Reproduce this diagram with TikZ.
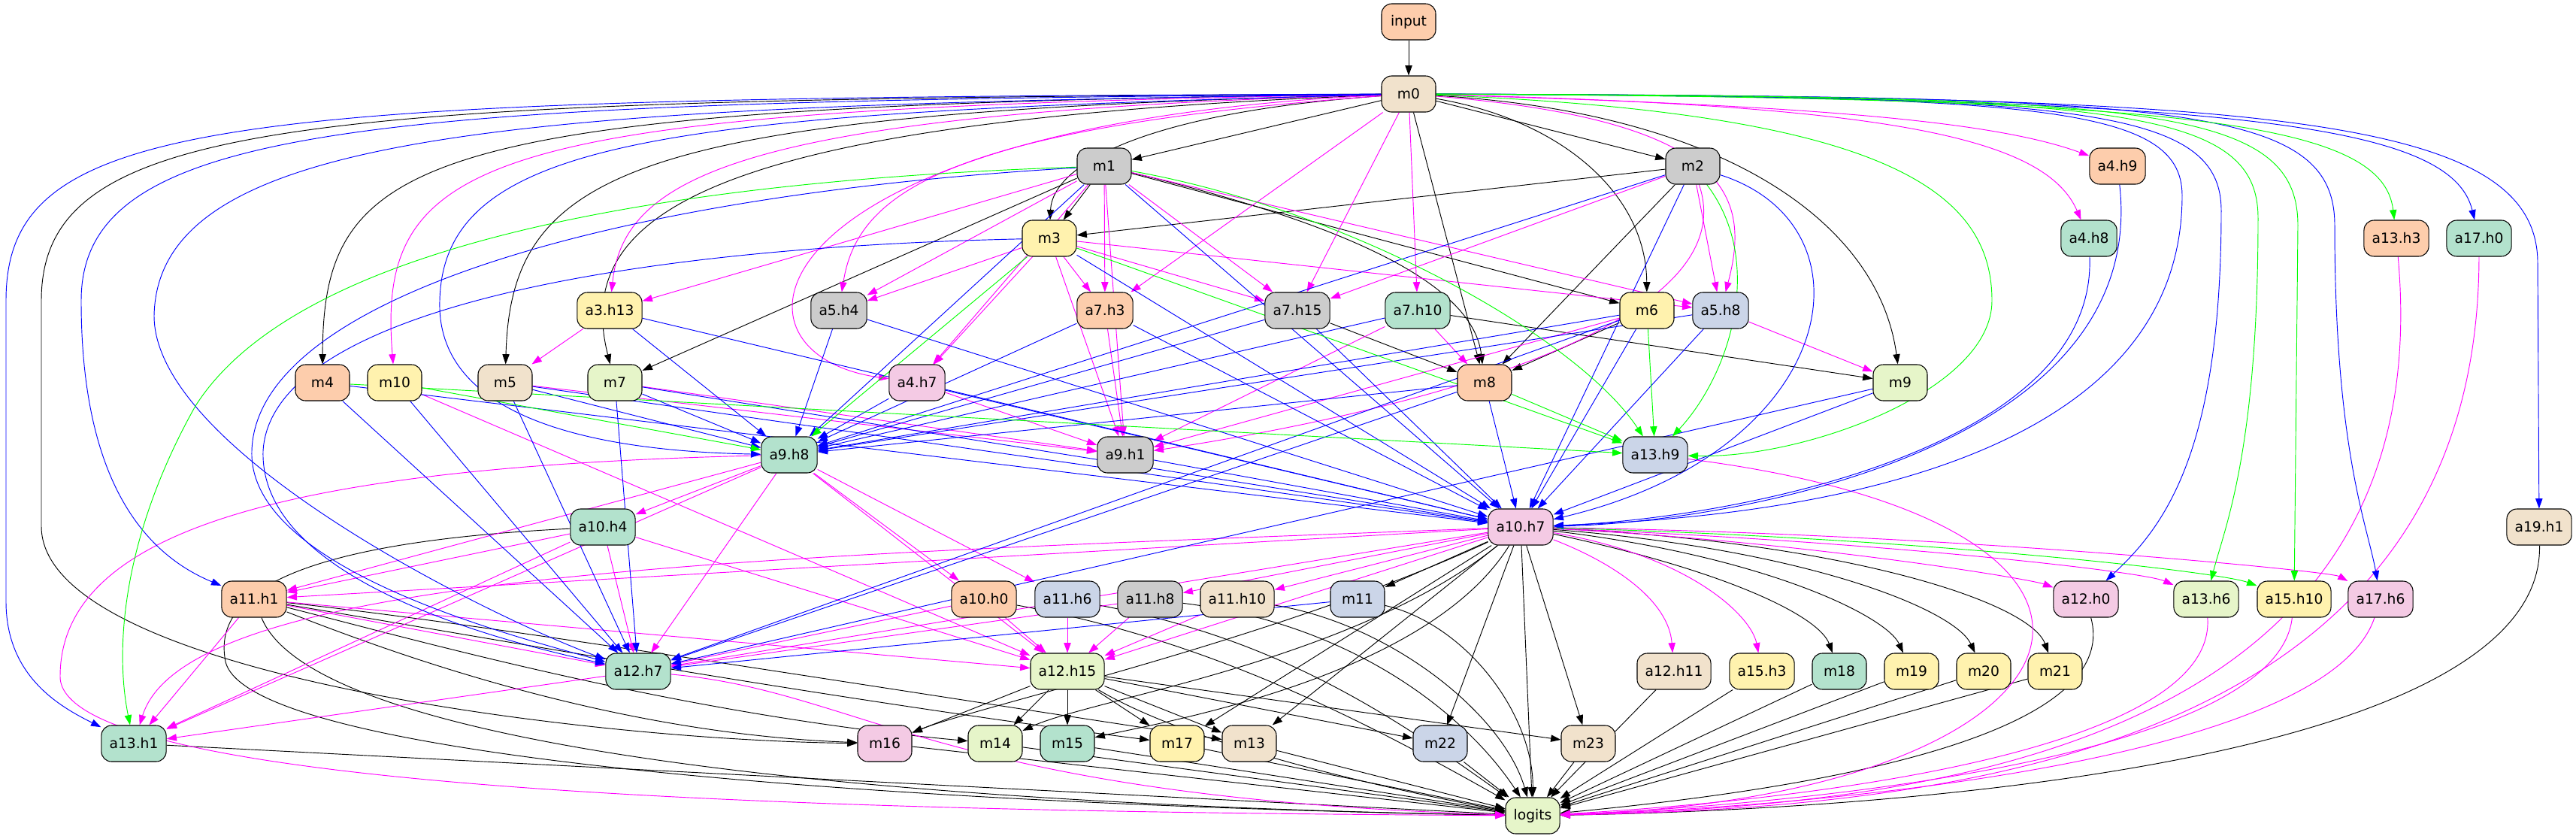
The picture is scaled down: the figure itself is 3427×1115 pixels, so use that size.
\documentclass[tikz,border=0pt]{standalone}
\usepackage{fontspec}
\setmainfont{DejaVu Sans}
\usetikzlibrary{arrows.meta}
\definecolor{pgreen}{HTML}{B3E2CD}
\definecolor{porange}{HTML}{FDCDAC}
\definecolor{pblue}{HTML}{CBD5E8}
\definecolor{ppink}{HTML}{F4CAE4}
\definecolor{plime}{HTML}{E6F5C9}
\definecolor{pyellow}{HTML}{FFF2AE}
\definecolor{pbeige}{HTML}{F1E2CC}
\definecolor{pgrey}{HTML}{CCCCCC}
\definecolor{eblue}{RGB}{0,0,255}
\definecolor{emag}{RGB}{255,0,255}
\definecolor{egreen}{RGB}{0,255,0}
\pgfdeclarelayer{edges}
\pgfsetlayers{edges,main}
\tikzset{
 nd/.style={draw=black, line width=0.8pt, rounded corners=10pt, minimum width=54pt, minimum height=36pt, inner xsep=8pt, inner ysep=0pt, font=\fontsize{14}{17}\selectfont},
 ed/.style={line width=0.7pt, -{Triangle[length=10pt,width=7pt]}},
 ek/.style={ed, black},
 eb/.style={ed, eblue},
 em/.style={ed, emag},
 eg/.style={ed, egreen},
}
\begin{document}
\begin{tikzpicture}[x=0.75pt,y=-0.75pt]
\useasboundingbox (0,0) rectangle (3427,1115);
% nodes
\node[nd,fill=porange] (input) at (1874,29) {input};
\node[nd,fill=pbeige] (m0) at (1874,125) {m0};
\node[nd,fill=pgrey] (m1) at (1469,221) {m1};
\node[nd,fill=pgrey] (m2) at (2252,221) {m2};
\node[nd,fill=porange] (a4h9) at (2817,221) {a4.h9};
\node[nd,fill=pyellow] (m3) at (1396,317) {m3};
\node[nd,fill=pgreen] (a4h8) at (2779,317) {a4.h8};
\node[nd,fill=porange] (a13h3) at (3188,317) {a13.h3};
\node[nd,fill=pgreen] (a17h0) at (3298,317) {a17.h0};
\node[nd,fill=pyellow] (a3h13) at (811,413) {a3.h13};
\node[nd,fill=pgrey] (a5h4) at (1116,413) {a5.h4};
\node[nd,fill=porange] (a7h3) at (1470,413) {a7.h3};
\node[nd,fill=pgrey] (a7h15) at (1726,413) {a7.h15};
\node[nd,fill=pgreen] (a7h10) at (1886,413) {a7.h10};
\node[nd,fill=pyellow] (m6) at (2191,413) {m6};
\node[nd,fill=pblue] (a5h8) at (2289,413) {a5.h8};
\node[nd,fill=porange] (m4) at (429,509) {m4};
\node[nd,fill=pyellow] (m10) at (525,509) {m10};
\node[nd,fill=pbeige] (m5) at (672,509) {m5};
\node[nd,fill=plime] (m7) at (818,509) {m7};
\node[nd,fill=ppink] (a4h7) at (1220,509) {a4.h7};
\node[nd,fill=porange] (m8) at (1975,509) {m8};
\node[nd,fill=plime] (m9) at (2528,509) {m9};
\node[nd,fill=pgreen] (a9h8) at (1050,605) {a9.h8};
\node[nd,fill=pgrey] (a9h1) at (1497,605) {a9.h1};
\node[nd,fill=pblue] (a13h9) at (2202,605) {a13.h9};
\node[nd,fill=pgreen] (a10h4) at (802,701) {a10.h4};
\node[nd,fill=ppink] (a10h7) at (2023,701) {a10.h7};
\node[nd,fill=pbeige] (a19h1) at (3378,701) {a19.h1};
\node[nd,fill=porange] (a11h1) at (338,797) {a11.h1};
\node[nd,fill=porange] (a10h0) at (1309,797) {a10.h0};
\node[nd,fill=pblue] (a11h6) at (1420,797) {a11.h6};
\node[nd,fill=pgrey] (a11h8) at (1530,797) {a11.h8};
\node[nd,fill=pbeige] (a11h10) at (1646,797) {a11.h10};
\node[nd,fill=pblue] (m11) at (1806,797) {m11};
\node[nd,fill=ppink] (a12h0) at (2775,797) {a12.h0};
\node[nd,fill=plime] (a13h6) at (2935,797) {a13.h6};
\node[nd,fill=pyellow] (a15h10) at (3052,797) {a15.h10};
\node[nd,fill=ppink] (a17h6) at (3167,797) {a17.h6};
\node[nd,fill=pgreen] (a12h7) at (849,893) {a12.h7};
\node[nd,fill=plime] (a12h15) at (1420,893) {a12.h15};
\node[nd,fill=pbeige] (a12h11) at (2227,893) {a12.h11};
\node[nd,fill=pyellow] (a15h3) at (2344,893) {a15.h3};
\node[nd,fill=pgreen] (m18) at (2447,893) {m18};
\node[nd,fill=pyellow] (m19) at (2543,893) {m19};
\node[nd,fill=pyellow] (m20) at (2639,893) {m20};
\node[nd,fill=pyellow] (m21) at (2734,893) {m21};
\node[nd,fill=pgreen] (a13h1) at (178,989) {a13.h1};
\node[nd,fill=ppink] (m16) at (1177,989) {m16};
\node[nd,fill=plime] (m14) at (1324,989) {m14};
\node[nd,fill=pgreen] (m15) at (1420,989) {m15};
\node[nd,fill=pyellow] (m17) at (1566,989) {m17};
\node[nd,fill=pbeige] (m13) at (1662,989) {m13};
\node[nd,fill=pblue] (m22) at (1916,989) {m22};
\node[nd,fill=pbeige] (m23) at (2113,989) {m23};
\node[nd,fill=plime] (logits) at (2039,1085) {logits};

\begin{pgfonlayer}{edges}
% ---------- black ----------
\draw[ek] (input) -- (m0);
\draw[ek] (m0) -- (m1);
\draw[ek] (m0) -- (m2);
\draw[ek] (m0) .. controls (1520,150) and (1400,220) .. (m3);
\draw[ek] (m0) -- (m8);
\draw[ek] (m0) .. controls (2080,160) and (2190,260) .. (m6);
\draw[ek] (m0) .. controls (2300,150) and (2500,300) .. (m9);
\draw[ek] (m0) .. controls (560,140) and (430,200) .. (m4);
\draw[ek] (m0) .. controls (850,150) and (680,220) .. (m5);
\draw[ek] (m0) .. controls (950,160) and (760,280) .. (m7);
\draw[ek] (m0) .. controls (400,132) and (55,155) .. (55,400) -- (55,700) .. controls (55,900) and (800,985) .. (m16);
\draw[ek] (m1) -- (m3);
\draw[ek] (m1) -- (m6);
\draw[ek] (m1) -- (m7);
\draw[ek] (m1) .. controls (1800,300) and (1960,380) .. (m8);
\draw[ek] (m2) -- (m3);
\draw[ek] (m2) -- (m8);
\draw[ek] (a7h15) -- (m8);
\draw[ek] (m6) -- (m8);
\draw[ek] (a7h10) -- (m9);
\draw[ek] (a10h4) .. controls (420,720) and (280,780) .. (300,880) .. controls (330,1010) and (1200,1070) .. (logits);
\draw[ek] (a10h7) -- (m11);
\draw[ek] (a10h7) .. controls (1700,850) and (1300,940) .. (m16);
\draw[ek] (a10h7) .. controls (1800,880) and (1450,930) .. (m14);
\draw[ek] (a10h7) .. controls (1900,900) and (1550,960) .. (m15);
\draw[ek] (a10h7) -- (m17);
\draw[ek] (a10h7) -- (m13);
\draw[ek] (a10h7) -- (m22);
\draw[ek] (a10h7) -- (m23);
\draw[ek] (a10h7) .. controls (2300,760) and (2420,820) .. (m18);
\draw[ek] (a10h7) .. controls (2350,740) and (2510,820) .. (m19);
\draw[ek] (a10h7) .. controls (2400,730) and (2600,810) .. (m20);
\draw[ek] (a10h7) .. controls (2450,720) and (2700,800) .. (m21);
\draw[ek] (a10h7) -- (logits);
\draw[ek] (a11h1) .. controls (500,860) and (800,975) .. (m16);
\draw[ek] (a11h1) .. controls (550,850) and (900,950) .. (m14);
\draw[ek] (a11h1) .. controls (600,840) and (1100,930) .. (m17);
\draw[ek] (a11h1) .. controls (650,830) and (1200,920) .. (m13);
\draw[ek] (a11h1) .. controls (420,1000) and (1200,1070) .. (logits);
\draw[ek] (a10h0) .. controls (1600,850) and (1800,950) .. (logits);
\draw[ek] (a11h6) .. controls (1700,850) and (1850,950) .. (logits);
\draw[ek] (a11h8) .. controls (1800,830) and (1950,950) .. (logits);
\draw[ek] (a11h10) .. controls (1850,830) and (2000,950) .. (logits);
\draw[ek] (m11) .. controls (1950,830) and (2040,950) .. (logits);
\draw[ek] (a12h15) -- (m16);
\draw[ek] (a12h15) -- (m14);
\draw[ek] (a12h15) -- (m15);
\draw[ek] (a12h15) -- (m17);
\draw[ek] (a12h15) -- (m13);
\draw[ek] (a12h15) -- (m22);
\draw[ek] (a12h15) -- (m23);
\draw[ek] (a12h15) .. controls (1600,1000) and (1900,1060) .. (logits);
\draw[ek] (m16) -- (logits);
\draw[ek] (m14) -- (logits);
\draw[ek] (m15) -- (logits);
\draw[ek] (m17) -- (logits);
\draw[ek] (m13) -- (logits);
\draw[ek] (m22) -- (logits);
\draw[ek] (m23) -- (logits);
\draw[ek] (a12h11) -- (logits);
\draw[ek] (a15h3) -- (logits);
\draw[ek] (m18) -- (logits);
\draw[ek] (m19) -- (logits);
\draw[ek] (m20) -- (logits);
\draw[ek] (m21) -- (logits);
\draw[ek] (a12h0) .. controls (2830,1000) and (2300,1060) .. (logits);
\draw[ek] (a19h1) .. controls (3384,1000) and (2600,1075) .. (logits);
\draw[ek] (a13h1) -- (logits);
% ---------- magenta ----------
\draw[em] (m0) .. controls (650,145) and (500,200) .. (m10);
\draw[em] (m0) .. controls (1000,150) and (830,230) .. (a3h13);
\draw[em] (m0) .. controls (1000,165) and (940,470) .. (a4h7);
\draw[em] (m0) .. controls (1250,170) and (1140,260) .. (a5h4);
\draw[em] (m0) -- (a7h3);
\draw[em] (m0) -- (a7h15);
\draw[em] (m0) -- (a7h10);
\draw[em] (m0) .. controls (2300,160) and (2330,260) .. (a5h8);
\draw[em] (m0) .. controls (2400,140) and (2650,160) .. (a4h9);
\draw[em] (m0) .. controls (2500,140) and (2720,180) .. (a4h8);
\draw[em] (m1) -- (a3h13);
\draw[em] (m1) -- (a5h4);
\draw[em] (m1) -- (a4h7);
\draw[em] (m1) -- (a7h3);
\draw[em] (m1) -- (a7h15);
\draw[em] (m1) -- (a9h1);
\draw[em] (m1) -- (a5h8);
\draw[em] (m2) -- (a5h8);
\draw[em] (m2) -- (a7h15);
\draw[em] (m2) .. controls (2330,450) and (1800,560) .. (a9h1);
\draw[em] (m3) -- (a5h4);
\draw[em] (m3) -- (a4h7);
\draw[em] (m3) -- (a7h3);
\draw[em] (m3) -- (a7h15);
\draw[em] (m3) -- (a5h8);
\draw[em] (m3) -- (a9h1);
\draw[em] (a3h13) -- (m5);
\draw[em] (a7h3) -- (a9h1);
\draw[em] (a7h10) -- (m8);
\draw[em] (a7h10) -- (a9h1);
\draw[em] (m6) -- (a9h1);
\draw[em] (a5h8) -- (m9);
\draw[em] (m5) -- (a9h1);
\draw[em] (m7) -- (a9h1);
\draw[em] (a4h7) -- (a9h1);
\draw[em] (a9h8) -- (a10h4);
\draw[em] (a9h8) -- (a11h1);
\draw[em] (a9h8) -- (a13h1);
\draw[em] (a9h8) -- (a12h7);
\draw[em] (a9h8) -- (a10h0);
\draw[em] (a9h8) -- (a11h6);
\draw[em] (a9h8) -- (a12h15);
\draw[em] (a9h8) .. controls (400,620) and (80,700) .. (80,900) .. controls (80,1060) and (1200,1080) .. (logits);
\draw[em] (a10h4) -- (a11h1);
\draw[em] (a10h4) -- (a12h7);
\draw[em] (a10h4) -- (a12h15);
\draw[em] (a10h4) -- (a13h1);
\draw[em] (a10h7) -- (a11h1);
\draw[em] (a10h7) -- (a12h7);
\draw[em] (a10h7) -- (a11h8);
\draw[em] (a10h7) -- (a11h10);
\draw[em] (a10h7) -- (a12h15);
\draw[em] (a10h7) .. controls (1000,740) and (250,760) .. (a13h1);
\draw[em] (a10h7) .. controls (2150,750) and (2220,800) .. (a12h11);
\draw[em] (a10h7) .. controls (2250,740) and (2330,820) .. (a15h3);
\draw[em] (a10h7) .. controls (2400,720) and (2700,770) .. (a12h0);
\draw[em] (a10h7) .. controls (2500,720) and (2850,760) .. (a13h6);
\draw[em] (a10h7) .. controls (2600,710) and (3100,760) .. (a17h6);
\draw[em] (a11h1) -- (a12h7);
\draw[em] (a11h1) -- (a13h1);
\draw[em] (a11h1) -- (a12h15);
\draw[em] (a10h0) -- (a12h15);
\draw[em] (a10h0) -- (a12h7);
\draw[em] (a11h6) -- (a12h15);
\draw[em] (a11h8) -- (a12h15);
\draw[em] (a11h8) -- (a12h7);
\draw[em] (a11h10) -- (a12h15);
\draw[em] (m10) -- (a12h15);
\draw[em] (a12h7) -- (a13h1);
\draw[em] (a12h7) .. controls (1150,920) and (1250,1060) .. (logits);
\draw[em] (a13h9) .. controls (2950,700) and (2800,1060) .. (logits);
\draw[em] (a13h6) .. controls (2950,1000) and (2400,1065) .. (logits);
\draw[em] (a15h10) .. controls (3030,1000) and (2450,1068) .. (logits);
\draw[em] (a17h6) .. controls (3100,1000) and (2500,1070) .. (logits);
\draw[em] (a13h3) .. controls (3250,1000) and (2550,1072) .. (logits);
\draw[em] (a17h0) .. controls (3297,1000) and (2600,1074) .. (logits);
% ---------- blue ----------
\draw[eb] (m0) .. controls (300,130) and (8,150) .. (8,400) -- (8,800) .. controls (8,900) and (80,940) .. (a13h1);
\draw[eb] (m0) .. controls (500,135) and (108,160) .. (108,400) .. controls (108,650) and (200,740) .. (a11h1);
\draw[eb] (m0) .. controls (700,140) and (210,170) .. (205,420) .. controls (205,600) and (650,820) .. (a12h7);
\draw[eb] (m0) .. controls (900,150) and (590,180) .. (585,400) .. controls (580,560) and (800,600) .. (a9h8);
\draw[eb] (m0) .. controls (2700,128) and (2903,138) .. (2903,260) .. controls (2903,650) and (2300,690) .. (a10h7);
\draw[eb] (m0) .. controls (2750,128) and (2955,138) .. (2955,280) .. controls (2955,600) and (2880,700) .. (a12h0);
\draw[eb] (m0) .. controls (2900,128) and (3106,138) .. (3106,300) .. controls (3106,600) and (3150,700) .. (a17h6);
\draw[eb] (m0) .. controls (2950,130) and (3260,160) .. (a17h0);
\draw[eb] (m0) .. controls (3000,128) and (3376,150) .. (3376,350) -- (a19h1);
\draw[eb] (m1) -- (a9h8);
\draw[eb] (m1) -- (a10h7);
\draw[eb] (m1) .. controls (800,260) and (340,400) .. (335,600) .. controls (330,760) and (700,850) .. (a12h7);
\draw[eb] (m2) -- (a9h8);
\draw[eb] (m2) -- (a10h7);
\draw[eb] (m2) .. controls (2500,300) and (2450,600) .. (a10h7);
\draw[eb] (m3) -- (a10h7);
\draw[eb] (m3) .. controls (800,330) and (360,420) .. (350,600) .. controls (345,780) and (700,860) .. (a12h7);
\draw[eb] (a3h13) -- (a9h8);
\draw[eb] (a3h13) -- (a10h7);
\draw[eb] (a5h4) -- (a9h8);
\draw[eb] (a5h4) -- (a10h7);
\draw[eb] (a4h7) -- (a9h8);
\draw[eb] (a4h7) -- (a10h7);
\draw[eb] (a7h3) -- (a9h8);
\draw[eb] (a7h3) -- (a10h7);
\draw[eb] (a7h15) -- (a9h8);
\draw[eb] (a7h15) -- (a10h7);
\draw[eb] (a7h10) -- (a9h8);
\draw[eb] (m6) -- (a9h8);
\draw[eb] (m6) -- (a10h7);
\draw[eb] (m6) -- (a12h7);
\draw[eb] (a5h8) -- (a9h8);
\draw[eb] (a5h8) -- (a10h7);
\draw[eb] (a4h8) .. controls (2790,600) and (2300,690) .. (a10h7);
\draw[eb] (a4h9) .. controls (2860,600) and (2300,695) .. (a10h7);
\draw[eb] (m4) -- (a12h7);
\draw[eb] (m4) -- (a10h7);
\draw[eb] (m10) -- (a12h7);
\draw[eb] (m5) -- (a9h8);
\draw[eb] (m5) -- (a12h7);
\draw[eb] (m5) -- (a10h7);
\draw[eb] (m7) -- (a9h8);
\draw[eb] (m7) -- (a12h7);
\draw[eb] (m7) -- (a10h7);
\draw[eb] (m8) -- (a9h8);
\draw[eb] (m8) -- (a10h7);
\draw[eb] (m8) -- (a12h7);
\draw[eb] (m9) -- (a10h7);
\draw[eb] (m9) -- (a12h7);
\draw[eb] (a9h1) -- (a10h7);
\draw[eb] (m11) -- (a12h7);
% ---------- green ----------
\draw[eg] (m0) .. controls (2900,130) and (3170,160) .. (a13h3);
\draw[eg] (m0) .. controls (2800,128) and (3004,138) .. (3004,290) .. controls (3004,600) and (2960,700) .. (a13h6);
\draw[eg] (m0) .. controls (2850,128) and (3057,138) .. (3057,300) -- (a15h10);
\draw[eg] (m0) .. controls (2500,150) and (2650,250) .. (2650,400) .. controls (2650,520) and (2400,610) .. (a13h9);
\draw[eg] (m1) .. controls (900,240) and (400,320) .. (260,540) .. controls (170,700) and (150,850) .. (a13h1);
\draw[eg] (m1) .. controls (1800,280) and (2100,450) .. (a13h9);
\draw[eg] (m2) .. controls (2350,350) and (2300,500) .. (a13h9);
\draw[eg] (m3) -- (a9h8);
\draw[eg] (m3) -- (a13h9);
\draw[eg] (m6) -- (a13h9);
\draw[eg] (m8) -- (a13h9);
\draw[eg] (m10) -- (a9h8);
\draw[eg] (m4) -- (a13h9);
\draw[eg] (a10h7) .. controls (2550,715) and (2950,760) .. (a15h10);
\end{pgfonlayer}
\end{tikzpicture}
\end{document}
